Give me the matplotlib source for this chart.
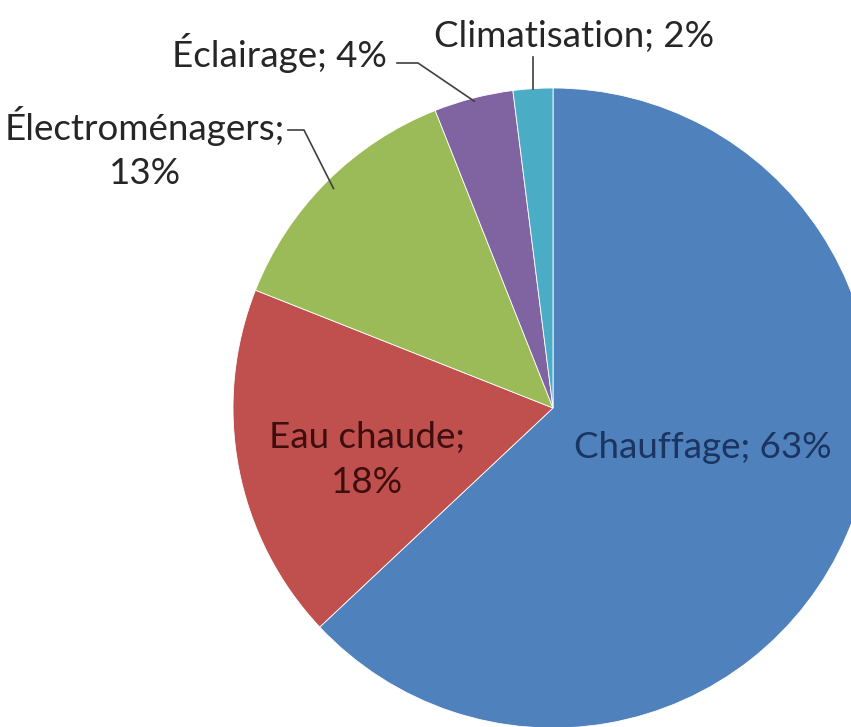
import math

import matplotlib
matplotlib.use("Agg")
import matplotlib.pyplot as plt

categories = ["Chauffage", "Eau chaude", "Électroménagers", "Éclairage", "Climatisation"]
shares = [63, 18, 13, 4, 2]
colors = ["#4F81BD", "#C0504D", "#9BBB59", "#8064A2", "#4BACC6"]

W, H = 851, 727
CX, CY, R = 553, 408, 320  # pie centre and radius, image pixels (y down)

plt.rcParams["font.family"] = ["Lato", "DejaVu Sans"]


def flip(y):
    return H - y


def edge_point(wedge, frac=1.0):
    # point on the wedge's mid-angle at frac * radius, in data coords
    ang = math.radians((wedge.theta1 + wedge.theta2) / 2)
    cx, cy = wedge.center
    return cx + frac * wedge.r * math.cos(ang), cy + frac * wedge.r * math.sin(ang)


fig = plt.figure(figsize=(W / 100, H / 100), dpi=100)
ax = fig.add_axes([0, 0, 1, 1])
wedges, _ = ax.pie(shares, colors=colors, startangle=90, counterclock=False,
                   center=(CX, flip(CY)), radius=R,
                   wedgeprops=dict(edgecolor="white", linewidth=0.6))
ax.set_xlim(0, W)
ax.set_ylim(0, H)
ax.set_aspect("equal")
ax.axis("off")

fs = 26.5
lbl = [f"{c}; {s}%" for c, s in zip(categories, shares)]

# inside labels
ax.text(703, flip(447), lbl[0], ha="center", va="center", fontsize=fs, color="#1B3560")
ax.text(367, flip(460), f"{categories[1]};\n{shares[1]}%", ha="center", va="center",
        fontsize=fs, color="#3E0E0E", linespacing=1.45)

# outside labels with leader lines
line_kw = dict(color="#404040", lw=1.2)

ax.text(145, flip(148), f"{categories[2]};\n{shares[2]}%", ha="center", va="center",
        fontsize=fs, color="#262626", linespacing=1.38)
ex, ey = edge_point(wedges[2], 0.97)
ax.plot([288, 304, ex], [flip(130), flip(130), ey], **line_kw)

ax.text(279, flip(53), lbl[3], ha="center", va="center", fontsize=fs, color="#262626")
ex, ey = edge_point(wedges[3], 0.99)
ax.plot([397, 418, ex], [flip(63), flip(63), ey], **line_kw)

ax.text(574, flip(36), lbl[4], ha="center", va="center", fontsize=fs, color="#262626")
ex, ey = edge_point(wedges[4], 1.0)
ax.plot([ex, ex], [flip(57), ey], **line_kw)

fig.savefig("out.png", dpi=100)
